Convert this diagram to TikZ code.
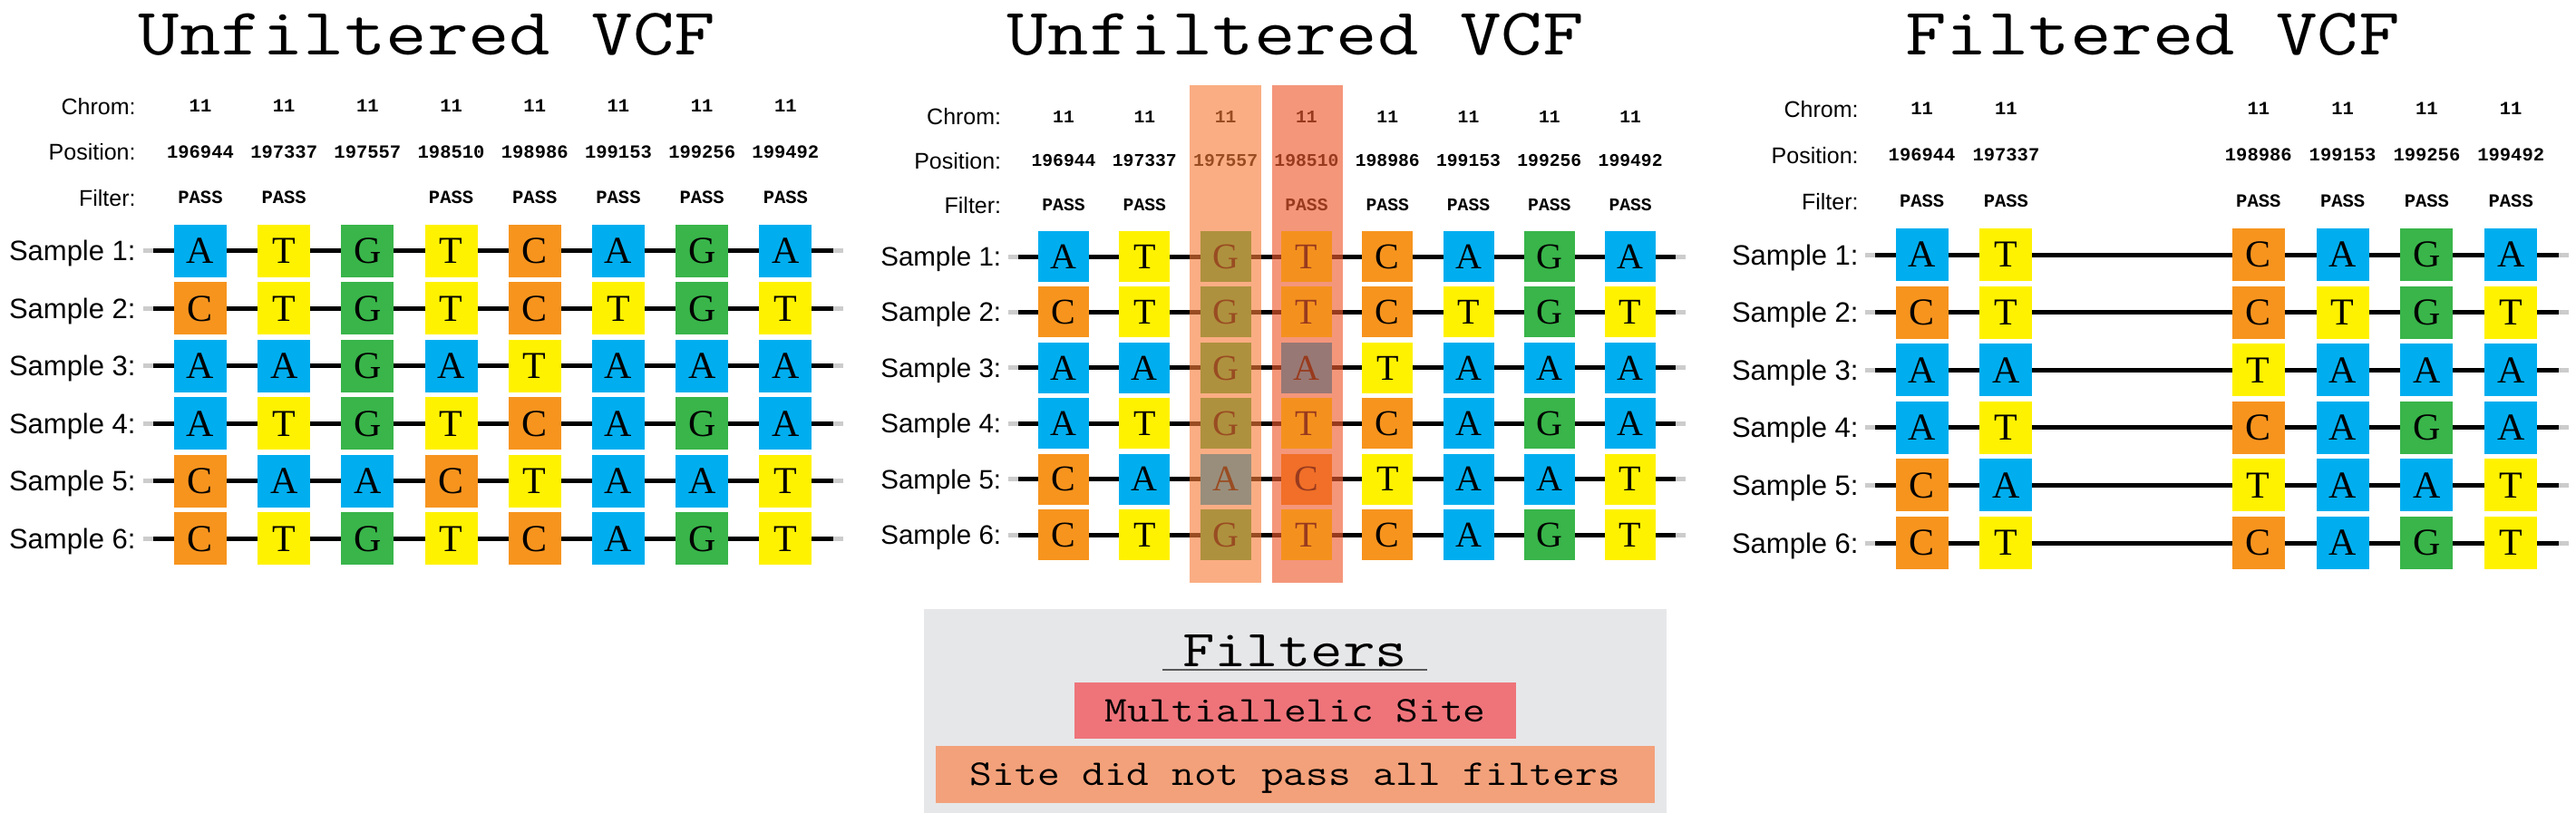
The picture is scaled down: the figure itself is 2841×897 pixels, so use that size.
\documentclass[tikz,border=0pt]{standalone}
\usepackage{fontspec}
\usepackage{graphicx}
\usepackage{tikz}
\usetikzlibrary{matrix,positioning,backgrounds}
\setmainfont{Liberation Serif}
\newfontfamily\labfont{Liberation Sans}
\newfontfamily\numfont{Liberation Mono}
\newcommand{\widett}[1]{\scalebox{1.2}[1]{#1}}
\definecolor{ntblue}{RGB}{0,174,239}
\definecolor{ntyellow}{RGB}{255,242,0}
\definecolor{ntgreen}{RGB}{57,181,74}
\definecolor{ntorange}{RGB}{247,148,30}
\definecolor{ovorange}{RGB}{247,123,55}
\definecolor{ovred}{RGB}{238,91,47}
\definecolor{legred}{RGB}{238,116,122}
\definecolor{legorange}{RGB}{243,161,122}
\definecolor{leggray}{RGB}{230,231,233}
\tikzset{
	nt/.style={minimum width=58pt, minimum height=58pt, inner sep=0pt, text height=27.8pt, text depth=0pt, font=\rmfamily\fontsize{42}{42}\selectfont},
	ntmid/.style={nt, minimum width=56pt, minimum height=56pt, text height=26.5pt, font=\rmfamily\fontsize{40}{40}\selectfont},
	nA/.style={fill=ntblue},
	nC/.style={fill=ntorange},
	nG/.style={fill=ntgreen},
	nT/.style={fill=ntyellow},
	hdr/.style={inner sep=0pt, minimum width=92.2pt, text height=13.2pt, text depth=0pt, font=\numfont\bfseries\fontsize{20.5}{20.5}\selectfont},
	hdrmid/.style={hdr, minimum width=89.3pt, text height=12.8pt, font=\numfont\bfseries\fontsize{19.7}{19.7}\selectfont},
	rowlab/.style={inner sep=0pt, text height=18pt, text depth=0pt, font=\labfont\fontsize{25}{25}\selectfont},
	smplab/.style={inner sep=0pt, text height=22pt, text depth=0pt, font=\labfont\fontsize{31}{31}\selectfont},
	strand/.style={line width=5pt, black},
	strandend/.style={line width=5pt, gray!40},
	vcftitle/.style={anchor=base, inner sep=0pt, font=\ttfamily\fontsize{73.6}{74}\selectfont},
	legtitle/.style={anchor=base, inner sep=0pt, font=\ttfamily\fontsize{57.3}{58}\selectfont},
	legbox/.style={inner sep=0pt, text height=24.4pt, text depth=0pt, font=\ttfamily\fontsize{40}{40}\selectfont}
}

\begin{document}
\begin{tikzpicture}[x=1pt, y=-1pt]
	\useasboundingbox (0,0) rectangle (2841,897);

	\node[vcftitle] (tL) at (471,60) {\widett{Unfiltered VCF}};
	\node[vcftitle] (tM) at (1428.5,60) {\widett{Unfiltered VCF}};
	\node[vcftitle] (tR) at (2374,60) {\widett{Filtered VCF}};

	\matrix (hL) [matrix of nodes, nodes in empty cells, nodes={hdr}, column sep=0pt, row sep=37.3pt] at (543.7,167.5)
	{
		11 & 11 & 11 & 11 & 11 & 11 & 11 & 11 \\
		196944 & 197337 & 197557 & 198510 & 198986 & 199153 & 199256 & 199492 \\
		PASS & PASS &  & PASS & PASS & PASS & PASS & PASS \\
	};
	\matrix (mL) [matrix of nodes, nodes in empty cells, nodes={nt}, column sep=34.2pt, row sep=5.5pt] at (543.7,435.5)
	{
		|[nA]| A & |[nT]| T & |[nG]| G & |[nT]| T & |[nC]| C & |[nA]| A & |[nG]| G & |[nA]| A \\
		|[nC]| C & |[nT]| T & |[nG]| G & |[nT]| T & |[nC]| C & |[nT]| T & |[nG]| G & |[nT]| T \\
		|[nA]| A & |[nA]| A & |[nG]| G & |[nA]| A & |[nT]| T & |[nA]| A & |[nA]| A & |[nA]| A \\
		|[nA]| A & |[nT]| T & |[nG]| G & |[nT]| T & |[nC]| C & |[nA]| A & |[nG]| G & |[nA]| A \\
		|[nC]| C & |[nA]| A & |[nA]| A & |[nC]| C & |[nT]| T & |[nA]| A & |[nA]| A & |[nT]| T \\
		|[nC]| C & |[nT]| T & |[nG]| G & |[nT]| T & |[nC]| C & |[nA]| A & |[nG]| G & |[nT]| T \\
	};
	\node[rowlab, left=24.9pt of hL-1-1] (chromL) {Chrom:};
	\node[rowlab, left=24.9pt of hL-2-1] (posL) {Position:};
	\node[rowlab, left=24.9pt of hL-3-1] (filtL) {Filter:};
	\foreach \r in {1,...,6}
		\node[smplab, left=42pt of mL-\r-1] (sL-\r) {Sample \r:};

	\matrix (hM) [matrix of nodes, nodes in empty cells, nodes={hdrmid}, column sep=0pt, row sep=35.9pt] at (1485.6,177.3)
	{
		11 & 11 & 11 & 11 & 11 & 11 & 11 & 11 \\
		196944 & 197337 & 197557 & 198510 & 198986 & 199153 & 199256 & 199492 \\
		PASS & PASS &  & PASS & PASS & PASS & PASS & PASS \\
	};
	\matrix (mM) [matrix of nodes, nodes in empty cells, nodes={ntmid}, column sep=33.3pt, row sep=5.4pt] at (1485.6,436.5)
	{
		|[nA]| A & |[nT]| T & |[nG]| G & |[nT]| T & |[nC]| C & |[nA]| A & |[nG]| G & |[nA]| A \\
		|[nC]| C & |[nT]| T & |[nG]| G & |[nT]| T & |[nC]| C & |[nT]| T & |[nG]| G & |[nT]| T \\
		|[nA]| A & |[nA]| A & |[nG]| G & |[nA]| A & |[nT]| T & |[nA]| A & |[nA]| A & |[nA]| A \\
		|[nA]| A & |[nT]| T & |[nG]| G & |[nT]| T & |[nC]| C & |[nA]| A & |[nG]| G & |[nA]| A \\
		|[nC]| C & |[nA]| A & |[nA]| A & |[nC]| C & |[nT]| T & |[nA]| A & |[nA]| A & |[nT]| T \\
		|[nC]| C & |[nT]| T & |[nG]| G & |[nT]| T & |[nC]| C & |[nA]| A & |[nG]| G & |[nT]| T \\
	};
	\node[rowlab, left=23.85pt of hM-1-1] (chromM) {Chrom:};
	\node[rowlab, left=23.85pt of hM-2-1] (posM) {Position:};
	\node[rowlab, left=23.85pt of hM-3-1] (filtM) {Filter:};
	\foreach \r in {1,...,6}
		\node[smplab, text height=21pt, font=\labfont\fontsize{29.5}{29.5}\selectfont, left=40.5pt of mM-\r-1] (sM-\r) {Sample \r:};

	\matrix (hR) [matrix of nodes, nodes in empty cells, nodes={hdr, minimum width=92.8pt}, column sep=0pt, row sep=37.8pt] at (2444.4,171)
	{
		11 & 11 &  &  & 11 & 11 & 11 & 11 \\
		196944 & 197337 &  &  & 198986 & 199153 & 199256 & 199492 \\
		PASS & PASS &  &  & PASS & PASS & PASS & PASS \\
	};
	\matrix (mR) [matrix of nodes, nodes in empty cells, nodes={nt}, column sep=34.8pt, row sep=5.6pt] at (2444.4,440)
	{
		|[nA]| A & |[nT]| T &  &  & |[nC]| C & |[nA]| A & |[nG]| G & |[nA]| A \\
		|[nC]| C & |[nT]| T &  &  & |[nC]| C & |[nT]| T & |[nG]| G & |[nT]| T \\
		|[nA]| A & |[nA]| A &  &  & |[nT]| T & |[nA]| A & |[nA]| A & |[nA]| A \\
		|[nA]| A & |[nT]| T &  &  & |[nC]| C & |[nA]| A & |[nG]| G & |[nA]| A \\
		|[nC]| C & |[nA]| A &  &  & |[nT]| T & |[nA]| A & |[nA]| A & |[nT]| T \\
		|[nC]| C & |[nT]| T &  &  & |[nC]| C & |[nA]| A & |[nG]| G & |[nT]| T \\
	};
	\node[rowlab, left=23.2pt of hR-1-1] (chromR) {Chrom:};
	\node[rowlab, left=23.2pt of hR-2-1] (posR) {Position:};
	\node[rowlab, left=23.2pt of hR-3-1] (filtR) {Filter:};
	\foreach \r in {1,...,6}
		\node[smplab, left=40.6pt of mR-\r-1] (sR-\r) {Sample \r:};

	\begin{scope}[on background layer]
		\foreach \r in {1,...,6}
		{
			\draw[strandend] ([xshift=8pt]sL-\r.east) -- ([xshift=19pt]sL-\r.east);
			\draw[strand] ([xshift=19pt]sL-\r.east) -- ([xshift=52.6pt]mL-\r-8.center);
			\draw[strandend] ([xshift=52.6pt]mL-\r-8.center) -- ([xshift=63.6pt]mL-\r-8.center);
			\draw[strandend] ([xshift=7.5pt]sM-\r.east) -- ([xshift=18.5pt]sM-\r.east);
			\draw[strand] ([xshift=18.5pt]sM-\r.east) -- ([xshift=50pt]mM-\r-8.center);
			\draw[strandend] ([xshift=50pt]mM-\r-8.center) -- ([xshift=61pt]mM-\r-8.center);
			\draw[strandend] ([xshift=7pt]sR-\r.east) -- ([xshift=18pt]sR-\r.east);
			\draw[strand] ([xshift=18pt]sR-\r.east) -- ([xshift=52.8pt]mR-\r-8.center);
			\draw[strandend] ([xshift=52.8pt]mR-\r-8.center) -- ([xshift=63.8pt]mR-\r-8.center);
		}
	\end{scope}

	\fill[ovorange, opacity=0.62] (1312,94) rectangle (1391,643);
	\fill[ovred, opacity=0.64] (1403,94) rectangle (1481,643);

	\fill[leggray] (1019,672) rectangle (1838,897);
	\node[legtitle] (fT) at (1428,735) {\widett{Filters}};
	\draw[line width=2pt, black!65] ([xshift=-22pt,yshift=-4pt]fT.base west) -- ([xshift=22pt,yshift=-4pt]fT.base east);
	\node[legbox, fill=legred, minimum width=487pt, minimum height=62.3pt] (fMulti) at (1428.5,783.9) {\widett{Multiallelic Site}};
	\node[legbox, fill=legorange, minimum width=793.4pt, minimum height=62.7pt] (fSite) at (1428.3,854.4) {\widett{Site did not pass all filters}};
\end{tikzpicture}
\end{document}
